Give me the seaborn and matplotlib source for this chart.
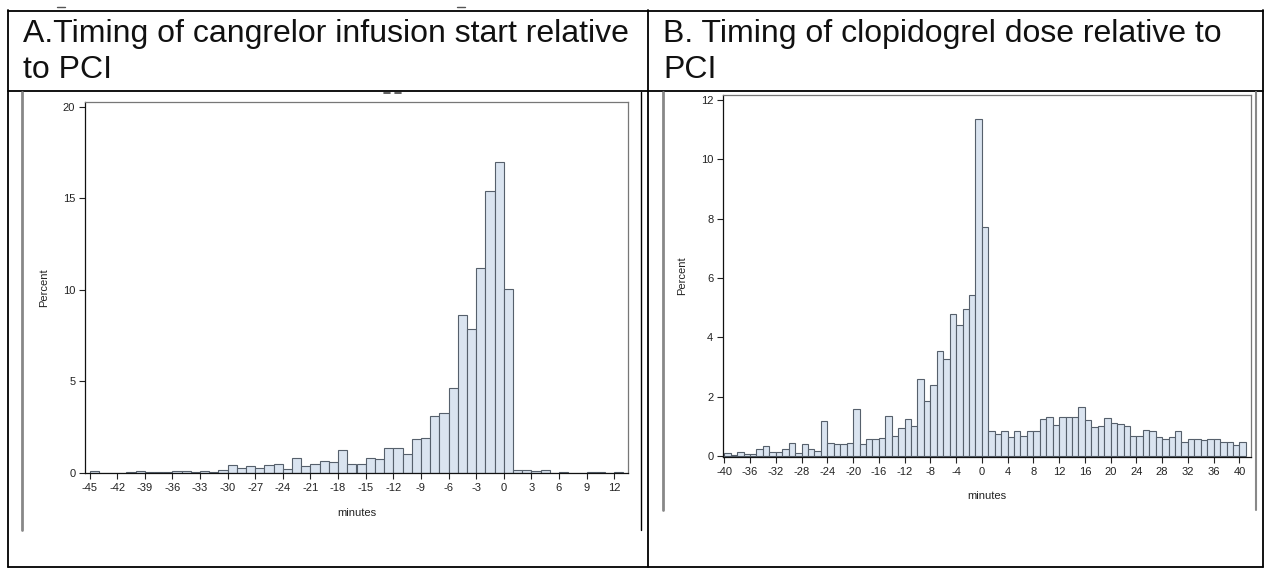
import matplotlib
matplotlib.use('Agg')
import matplotlib.pyplot as plt
import numpy as np
import pandas as pd
import seaborn as sns

sns.set_style('white')
plt.rcParams['font.family'] = ['Liberation Sans', 'DejaVu Sans']
plt.rcParams['axes.unicode_minus'] = False

# Panel A: cangrelor infusion start, 1-minute bins starting at -45
a_minutes = list(range(-45, 13))
a_percent = [0.10, 0, 0, 0, 0.04, 0.10, 0.05, 0.05, 0.05, 0.10, 0.10, 0.05, 0.10, 0.05, 0.15,
             0.45, 0.28, 0.38, 0.28, 0.42, 0.48, 0.20, 0.83, 0.38, 0.48, 0.65, 0.60, 1.28, 0.50,
             0.50, 0.82, 0.78, 1.38, 1.38, 1.05, 1.88, 1.92, 3.10, 3.25, 4.65, 8.60, 7.85, 11.20,
             15.40, 17.00, 10.05,
             0.15, 0.15, 0.10, 0.15, 0, 0.04, 0, 0, 0.04, 0.04, 0, 0.05]
a_xticks = list(range(-45, 13, 3))
a_yticks = [0, 5, 10, 15, 20]

# Panel B: clopidogrel dose, 1-minute bins starting at -40
b_minutes = list(range(-40, 41))
b_percent = [0.12, 0.05, 0.15, 0.08, 0.08, 0.25, 0.35, 0.15, 0.15, 0.25, 0.45, 0.12, 0.42,
             0.25, 0.18, 1.17, 0.45, 0.42, 0.42, 0.45, 1.57, 0.42, 0.56, 0.56, 0.62, 1.34,
             0.69, 0.93, 1.24, 1.00, 2.59, 1.84, 2.38,
             3.53, 3.27, 4.80, 4.43, 4.97, 5.44, 11.35, 7.72,
             0.83, 0.73, 0.83, 0.63, 0.86, 0.69, 0.86, 0.86, 1.24, 1.33, 1.06, 1.33, 1.33,
             1.33, 1.67, 1.23, 0.99, 1.03, 1.27, 1.13, 1.07, 1.03, 0.69, 0.69, 0.89, 0.86,
             0.63, 0.56, 0.63, 0.86, 0.49, 0.56, 0.56, 0.53, 0.59, 0.56, 0.49, 0.49, 0.38, 0.49]
b_xticks = list(range(-40, 41, 4))
b_yticks = list(range(0, 13, 2))

titles = ['A.Timing of cangrelor infusion start relative\nto PCI',
          'B. Timing of clopidogrel dose relative to\nPCI']

fill = '#dae4f0'
edge = '#56606c'

fig = plt.figure(figsize=(12.69, 5.69), dpi=100)


def draw_hist(ax, minutes, percent, xticks, yticks, xlim, ylim, xpad):
    df = pd.DataFrame({'minute': np.array(minutes) + 0.5, 'percent': percent})
    sns.histplot(data=df, x='minute', weights='percent', binwidth=1,
                 binrange=(minutes[0], minutes[-1] + 1), ax=ax, color=fill,
                 edgecolor=edge, linewidth=0.8, alpha=1)
    ax.set_xlim(*xlim)
    ax.set_ylim(*ylim)
    ax.set_xticks(xticks)
    ax.set_yticks(yticks)
    ax.set_xlabel('minutes', fontsize=8, labelpad=xpad, color='#222222')
    ax.set_ylabel('Percent', fontsize=8, labelpad=10, color='#222222')
    ax.tick_params(axis='both', labelsize=8, length=4, width=0.8, direction='out',
                   colors='#222222', bottom=True, left=True, pad=3)
    for s in ['left', 'bottom']:
        ax.spines[s].set_color('#111111')
        ax.spines[s].set_linewidth(0.9)
    for s in ['top', 'right']:
        ax.spines[s].set_color('#777777')
        ax.spines[s].set_linewidth(0.9)


ax_a = fig.add_axes([85 / 1269, 1 - 473 / 569, 543 / 1269, 371 / 569])
draw_hist(ax_a, a_minutes, a_percent, a_xticks, a_yticks, (-45.5, 13.5), (0, 20.25), 11)

ax_b = fig.add_axes([723 / 1269, 1 - 457 / 569, 528 / 1269, 362 / 569])
draw_hist(ax_b, b_minutes, b_percent, b_xticks, b_yticks, (-40.2, 41.8), (-0.03, 12.16), 10)

# table frame around the two panels (pixel coordinates)
frame = fig.add_axes([0, 0, 1, 1], facecolor='none')
frame.set_xlim(0, 1269)
frame.set_ylim(569, 0)
frame.axis('off')
for y in [10.5, 90.5, 567]:
    frame.plot([8, 1263], [y, y], color='black', lw=1.3)
for x in [8, 647.5, 1263]:
    frame.plot([x, x], [10, 567], color='black', lw=1.3)
frame.plot([22, 22], [92, 530], color='#888888', lw=2)
frame.plot([641, 641], [92, 530], color='black', lw=1)
frame.plot([663, 663], [92, 510], color='#888888', lw=2)
frame.plot([1256, 1256], [92, 510], color='#888888', lw=1.5)

# cut-off fragments of text around the borders
frame.plot([57, 65], [7, 7], color='#555555', lw=1)
frame.plot([457, 465], [7, 7], color='#555555', lw=1)
frame.plot([384, 390], [93, 93], color='#444444', lw=1.2)
frame.plot([395, 401], [93, 93], color='#444444', lw=1.2)

for x0, title in zip([23, 663], titles):
    for y0, line in zip([41.7, 77.7], title.split('\n')):
        frame.text(x0, y0, line, fontsize=23, va='baseline', ha='left', color='#111111')

fig.savefig('out.png', dpi=100)
